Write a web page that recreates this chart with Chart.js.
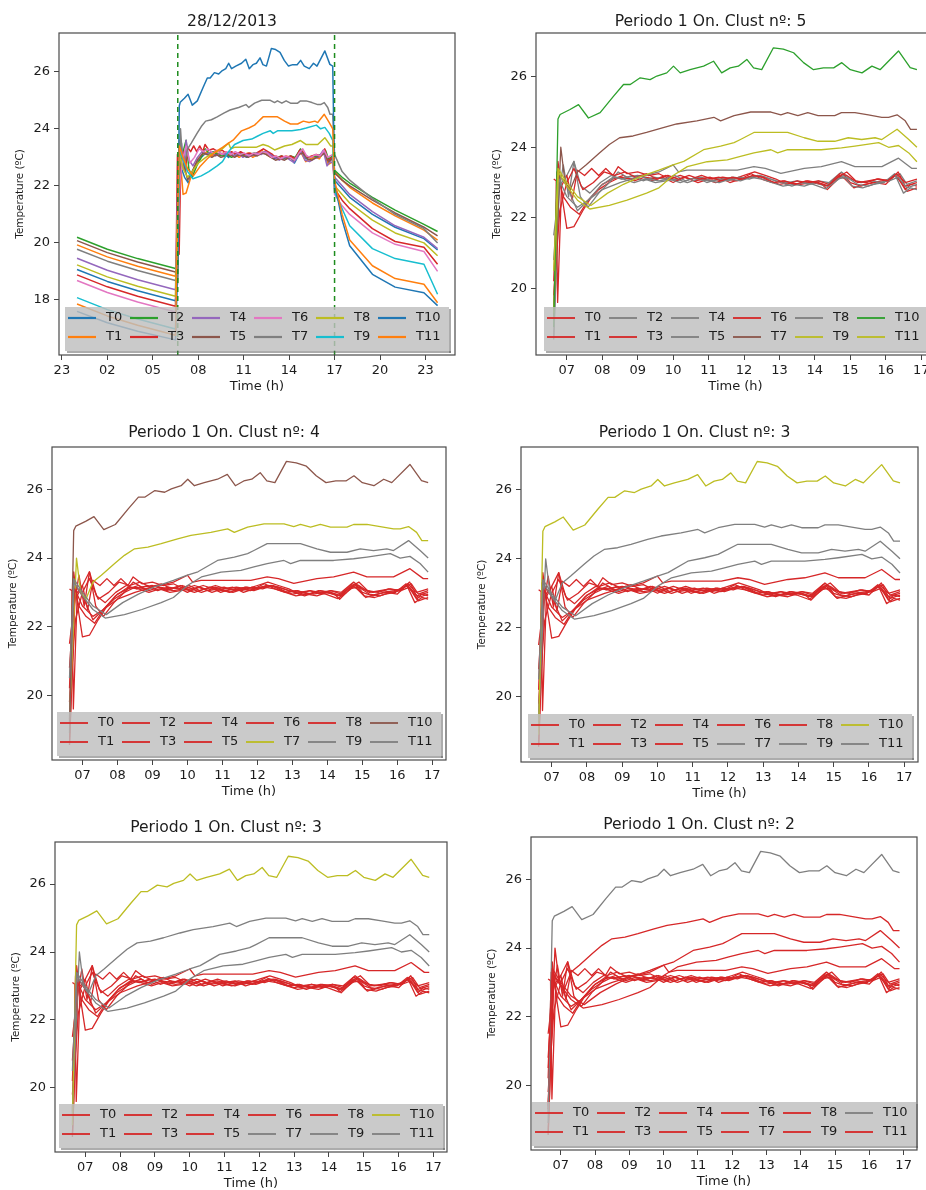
<!DOCTYPE html>
<html>
<head>
<meta charset="utf-8">
<script src="https://cdn.jsdelivr.net/npm/chart.js@4.4.0/dist/chart.umd.min.js"></script>
<style>
  html, body { margin: 0; padding: 0; background: #fff; }
  body { position: relative; width: 926px; height: 1190px; overflow: hidden; }
  canvas { position: absolute; }
</style>
</head>
<body>
<script>
// ---- data (hours of the day, temperature in ºC) ----
const sensors = ['T0', 'T1', 'T2', 'T3', 'T4', 'T5', 'T6', 'T7', 'T8', 'T9', 'T10', 'T11'];

// night before the heating goes on (00:00 -> 06:30)
const nightHours = [0, 2, 4, 6.5];
const nightTemps = [
  [19.07, 18.65, 18.32, 17.97],
  [19.93, 19.51, 19.18, 18.83],
  [20.20, 19.78, 19.45, 19.10],
  [18.88, 18.46, 18.13, 17.78],
  [19.46, 19.04, 18.71, 18.36],
  [20.08, 19.66, 19.33, 18.98],
  [18.68, 18.26, 17.93, 17.58],
  [19.78, 19.36, 19.03, 18.68],
  [19.23, 18.81, 18.48, 18.13],
  [18.08, 17.66, 17.33, 16.98],
  [17.60, 17.20, 16.90, 16.60],
  [17.86, 17.44, 17.11, 16.76]
];

// evening after the heating goes off (17:00 -> 23:48)
const eveningHours = [17.0, 17.5, 18.0, 19.5, 21.0, 22.9, 23.8];
const eveningTemps = [
  [22.20, 21.90, 21.60, 21.00, 20.55, 20.15, 19.75],
  [22.50, 22.20, 21.95, 21.40, 20.95, 20.45, 20.10],
  [22.55, 22.30, 22.10, 21.60, 21.15, 20.65, 20.40],
  [21.90, 21.50, 21.20, 20.50, 20.05, 19.85, 19.25],
  [22.30, 22.00, 21.70, 21.10, 20.60, 20.20, 19.80],
  [22.45, 22.20, 22.00, 21.50, 21.05, 20.55, 20.25],
  [21.70, 21.30, 21.00, 20.35, 19.95, 19.70, 19.00],
  [23.10, 22.50, 22.20, 21.55, 21.00, 20.50, 20.00],
  [22.00, 21.70, 21.40, 20.80, 20.35, 20.00, 19.55],
  [21.80, 21.20, 20.60, 19.80, 19.45, 19.25, 18.20],
  [22.10, 20.80, 19.90, 18.90, 18.45, 18.25, 17.80],
  [22.20, 21.00, 20.10, 19.20, 18.75, 18.55, 17.90]
];

// "Periodo 1 On" (06:38 -> 16:53), [hour, temperature]
const onT0 = [[6.63,19.2],[6.72,23.3],[6.9,22.6],[7.1,22.3],[7.35,22.1],[7.6,22.5],[7.9,22.8],[8.2,23.0],[8.5,23.15],[8.8,23.1],[9.1,23.2],[9.4,23.05],[9.7,23.15],[10.0,23.0],[10.3,23.15],[10.6,23.05],[10.9,23.1],[11.2,23.0],[11.5,23.1],[11.8,23.05],[12.1,23.15],[12.4,23.2],[12.7,23.05],[13.0,22.95],[13.3,23.0],[13.6,22.95],[13.9,23.0],[14.2,22.95],[14.35,22.8],[14.6,23.05],[14.8,23.25],[15.0,23.0],[15.3,22.9],[15.6,23.0],[15.9,23.05],[16.1,23.1],[16.3,23.2],[16.55,22.8],[16.7,22.95],[16.88,22.9]];
const onT1 = [[6.63,20.2],[6.75,23.6],[6.88,22.5],[7.0,21.7],[7.2,21.75],[7.45,22.2],[7.7,22.6],[8.0,22.95],[8.3,23.1],[8.6,23.2],[8.9,23.05],[9.2,23.15],[9.5,23.1],[9.8,23.2],[10.1,23.05],[10.35,23.15],[10.7,23.0],[11.0,23.1],[11.3,23.15],[11.6,23.0],[11.9,23.1],[12.2,23.25],[12.5,23.1],[12.8,23.0],[13.1,23.05],[13.5,22.95],[13.8,23.05],[14.1,23.0],[14.4,22.9],[14.7,23.2],[14.85,23.1],[15.1,22.85],[15.4,22.95],[15.7,23.0],[16.0,22.95],[16.25,23.2],[16.45,23.0],[16.6,22.75],[16.88,22.85]];
const onT2 = [[6.63,18.6],[6.78,22.9],[7.0,23.2],[7.2,23.6],[7.38,22.6],[7.6,22.3],[7.9,22.7],[8.2,23.0],[8.45,23.3],[8.7,23.15],[9.0,23.2],[9.3,23.1],[9.6,23.05],[9.9,23.1],[10.2,23.0],[10.5,23.1],[10.8,23.15],[11.1,23.05],[11.4,23.1],[11.7,23.15],[12.0,23.1],[12.3,23.2],[12.6,23.15],[12.9,23.05],[13.2,23.0],[13.5,23.05],[13.8,22.95],[14.1,23.05],[14.4,23.0],[14.75,23.3],[15.0,23.1],[15.3,23.0],[15.6,23.05],[15.9,23.0],[16.2,23.15],[16.4,23.25],[16.6,22.95],[16.88,23.05]];
const onT3 = [[6.63,23.1],[6.7,23.05],[6.74,19.6],[6.85,22.9],[7.0,23.2],[7.15,22.5],[7.3,23.35],[7.5,23.2],[7.7,23.4],[7.9,23.2],[8.1,23.4],[8.3,23.2],[8.45,23.45],[8.7,23.25],[9.0,23.3],[9.3,23.2],[9.6,23.25],[9.9,23.1],[10.2,23.2],[10.5,23.1],[10.8,23.2],[11.1,23.1],[11.4,23.15],[11.7,23.1],[12.0,23.2],[12.3,23.3],[12.6,23.2],[12.9,23.1],[13.2,22.95],[13.5,23.05],[13.8,23.0],[14.1,23.05],[14.4,22.95],[14.7,23.25],[14.9,23.2],[15.2,23.0],[15.5,23.05],[15.8,23.1],[16.1,23.05],[16.35,23.3],[16.55,22.9],[16.88,23.0]];
const onT4 = [[6.63,21.5],[6.76,22.6],[6.9,23.5],[7.05,22.6],[7.2,23.6],[7.4,22.9],[7.65,22.7],[7.95,23.0],[8.25,23.2],[8.55,23.1],[8.85,23.2],[9.15,23.05],[9.45,23.15],[9.75,23.1],[10.05,23.2],[10.35,23.05],[10.65,23.15],[10.95,23.0],[11.25,23.1],[11.55,23.05],[11.85,23.15],[12.15,23.1],[12.45,23.2],[12.75,23.1],[13.05,23.0],[13.35,22.9],[13.65,23.0],[13.95,22.95],[14.3,22.82],[14.55,23.0],[14.8,23.2],[15.05,22.9],[15.35,22.85],[15.65,22.95],[15.95,23.0],[16.25,23.25],[16.5,22.7],[16.7,22.85],[16.88,22.8]];
const onT5 = [[6.63,18.55],[6.8,23.2],[7.0,22.9],[7.3,22.2],[7.6,22.5],[7.95,22.9],[8.3,23.15],[8.6,23.1],[8.9,23.0],[9.2,23.1],[9.5,23.0],[9.8,23.05],[10.1,23.1],[10.4,23.0],[10.7,23.1],[11.0,23.05],[11.3,23.0],[11.6,23.1],[11.9,23.05],[12.2,23.15],[12.5,23.1],[12.8,23.0],[13.1,22.9],[13.4,22.95],[13.7,22.9],[14.0,23.0],[14.3,22.9],[14.6,23.1],[14.9,23.15],[15.2,22.95],[15.5,22.9],[15.8,23.0],[16.1,23.05],[16.35,23.15],[16.6,22.85],[16.88,22.95]];
const onT6 = [[6.63,19.8],[6.8,22.2],[7.0,23.0],[7.2,23.4],[7.45,22.8],[7.75,23.0],[8.05,23.3],[8.35,23.2],[8.65,23.3],[8.95,23.15],[9.25,23.25],[9.55,23.1],[9.85,23.2],[10.15,23.1],[10.45,23.2],[10.75,23.1],[11.05,23.15],[11.35,23.05],[11.65,23.15],[11.95,23.1],[12.25,23.2],[12.55,23.15],[12.85,23.0],[13.15,23.05],[13.45,22.95],[13.75,23.05],[14.05,23.0],[14.35,22.9],[14.65,23.15],[14.9,23.3],[15.15,23.05],[15.45,23.0],[15.75,23.1],[16.05,23.05],[16.3,23.25],[16.55,23.0],[16.88,23.1]];
const onT7 = [[6.63,19.4],[6.83,24.0],[6.95,23.0],[7.1,22.8],[7.3,23.3],[7.54,23.5],[7.92,23.84],[8.2,24.08],[8.49,24.27],[8.87,24.32],[9.25,24.42],[9.72,24.56],[10.1,24.66],[10.67,24.75],[11.15,24.85],[11.34,24.75],[11.72,24.9],[12.19,25.0],[12.76,25.0],[13.04,24.92],[13.23,24.98],[13.52,24.9],[13.8,24.98],[14.09,24.9],[14.56,24.9],[14.75,24.98],[15.13,24.98],[15.51,24.92],[15.89,24.85],[16.08,24.85],[16.32,24.92],[16.55,24.75],[16.7,24.51],[16.88,24.51]];
const onT8 = [[6.63,20.8],[6.78,23.1],[7.0,22.6],[7.3,22.3],[7.6,22.5],[8.0,22.8],[8.5,23.0],[9.0,23.15],[9.6,23.3],[10.0,23.5],[10.15,23.3],[10.39,23.35],[11.0,23.35],[11.81,23.35],[12.28,23.45],[12.6,23.4],[13.04,23.26],[13.7,23.4],[14.18,23.45],[14.75,23.59],[15.13,23.45],[15.89,23.45],[16.36,23.69],[16.74,23.4],[16.88,23.4]];
const onT9 = [[6.63,19.3],[6.76,23.3],[7.0,22.9],[7.3,22.5],[7.65,22.25],[8.2,22.35],[8.7,22.5],[9.25,22.7],[9.6,22.85],[10.0,23.2],[10.4,23.45],[10.96,23.59],[11.53,23.64],[11.9,23.74],[12.28,23.84],[12.76,23.93],[12.95,23.84],[13.23,23.93],[14.18,23.93],[14.75,23.98],[15.13,24.03],[15.8,24.13],[16.08,24.0],[16.36,24.05],[16.65,23.84],[16.88,23.59]];
const onT10 = [[6.63,18.9],[6.75,24.8],[6.81,24.93],[7.09,25.07],[7.33,25.21],[7.61,24.83],[7.94,24.98],[8.32,25.45],[8.6,25.78],[8.79,25.78],[9.07,25.97],[9.35,25.92],[9.54,26.02],[9.82,26.11],[10.01,26.3],[10.2,26.11],[10.48,26.2],[10.86,26.3],[11.14,26.44],[11.37,26.11],[11.61,26.25],[11.84,26.3],[12.08,26.49],[12.27,26.25],[12.5,26.2],[12.83,26.82],[13.11,26.78],[13.4,26.68],[13.68,26.4],[13.96,26.2],[14.24,26.25],[14.53,26.25],[14.76,26.4],[15.0,26.2],[15.33,26.11],[15.61,26.3],[15.84,26.2],[16.36,26.73],[16.69,26.26],[16.88,26.2]];
const onT11 = [[6.63,20.5],[6.75,23.4],[7.0,23.0],[7.3,22.6],[7.68,22.35],[8.15,22.7],[8.6,22.95],[9.08,23.17],[9.6,23.35],[10.0,23.5],[10.3,23.6],[10.86,23.93],[11.34,24.03],[11.72,24.13],[11.9,24.22],[12.28,24.42],[12.57,24.42],[13.23,24.42],[13.7,24.27],[14.09,24.17],[14.56,24.17],[14.94,24.27],[15.32,24.22],[15.7,24.27],[15.89,24.22],[16.32,24.51],[16.65,24.22],[16.88,24.0]];
const onPeriod = [onT0, onT1, onT2, onT3, onT4, onT5, onT6, onT7, onT8, onT9, onT10, onT11];

// start / end of the "On" period, marked in the first panel
const markerHours = [6.65, 17.0];

const dayTicks = [-1, 2, 5, 8, 11, 14, 17, 20, 23];
const dayTickLabels = ['23', '02', '05', '08', '11', '14', '17', '20', '23'];
const onTicks = [7, 8, 9, 10, 11, 12, 13, 14, 15, 16, 17];
const onTickLabels = ['07', '08', '09', '10', '11', '12', '13', '14', '15', '16', '17'];
const dayTempTicks = [18, 20, 22, 24, 26];
const onTempTicks = [20, 22, 24, 26];

// ---- styles ----
const R = '#d62728', GY = '#7f7f7f', OL = '#bcbd22', GN = '#2ca02c', BR = '#8c564b';
const tab10Cycle = ['#1f77b4', '#ff7f0e', '#2ca02c', '#d62728', '#9467bd', '#8c564b',
  '#e377c2', '#7f7f7f', '#bcbd22', '#17becf', '#1f77b4', '#ff7f0e'];
const clust5Colors = [R, R, GY, R, GY, GY, R, BR, GY, OL, GN, OL];
const clust4Colors = [R, R, R, R, R, R, R, OL, R, GY, BR, GY];
const clust3Colors = [R, R, R, R, R, R, R, GY, R, GY, OL, GY];
const clust2Colors = [R, R, R, R, R, R, R, R, R, R, GY, R];

Chart.defaults.font.family = 'DejaVu Sans';
const TEXT = '#1c1c1c';

// panels: axes box [left, top, right, bottom] in page pixels
const panels = [
  { box: [59, 33, 455, 355], title: '28/12/2013', titleGap: 1.6, full: true, colors: tab10Cycle },
  { box: [536, 33, 935, 355], title: 'Periodo 1 On. Clust nº: 5', titleGap: 1.6, colors: clust5Colors },
  { box: [52, 447, 446, 760], title: 'Periodo 1 On. Clust nº: 4', titleGap: 4.6, colors: clust4Colors },
  { box: [521, 447, 918, 762], title: 'Periodo 1 On. Clust nº: 3', titleGap: 4.6, colors: clust3Colors },
  { box: [55, 842, 447, 1152], title: 'Periodo 1 On. Clust nº: 3', titleGap: 4.6, colors: clust3Colors },
  { box: [531, 837, 917, 1150], title: 'Periodo 1 On. Clust nº: 2', titleGap: 2.6, colors: clust2Colors }
];

// full box frame + matplotlib-like legend inside the axes (lower centre)
const frameAndLegend = {
  id: 'frameAndLegend',
  afterDatasetsDraw(chart, args, opts) {
    const ctx = chart.ctx;
    const a = chart.chartArea;
    ctx.save();
    ctx.strokeStyle = '#4a4a4a';
    ctx.lineWidth = 1.2;
    ctx.strokeRect(a.left, a.top, a.right - a.left, a.bottom - a.top);

    const items = chart.data.datasets.filter(d => !d.marker);
    const w = 384, h = 44;
    const x0 = Math.round((a.left + a.right) / 2 - w / 2);
    const y0 = Math.round(a.bottom - 4 - h);
    ctx.fillStyle = 'rgba(90,90,90,0.5)';
    ctx.fillRect(x0 + w, y0 + 2, 2, h);
    ctx.fillRect(x0 + 2, y0 + h, w, 2);
    ctx.fillStyle = 'rgba(190,190,190,0.82)';
    ctx.fillRect(x0, y0, w, h);

    ctx.font = '13px "DejaVu Sans"';
    ctx.textBaseline = 'middle';
    items.forEach((d, i) => {
      const hx = x0 + 3 + Math.floor(i / 2) * 62;
      const hy = y0 + 11 + (i % 2) * 19;
      ctx.strokeStyle = d.borderColor;
      ctx.lineWidth = opts.handleWidth;
      ctx.beginPath();
      ctx.moveTo(hx, hy);
      ctx.lineTo(hx + 28, hy);
      ctx.stroke();
      ctx.fillStyle = TEXT;
      ctx.fillText(d.label, hx + 38, hy);
    });
    ctx.restore();
  }
};

function seriesPoints(i, full) {
  const on = onPeriod[i].map(([x, y]) => ({ x, y }));
  if (!full) return on;
  const night = nightHours.map((x, k) => ({ x, y: nightTemps[i][k] }));
  const evening = eveningHours.map((x, k) => ({ x, y: eveningTemps[i][k] }));
  return night.concat(on, evening);
}

function makePanel(p) {
  const [L, T, Rt, B] = p.box;
  const left = L - 50, top = T - 24;
  const width = Rt - L + 58, height = B - top + 42;
  const canvas = document.createElement('canvas');
  canvas.width = width;
  canvas.height = height;
  canvas.style.left = left + 'px';
  canvas.style.top = top + 'px';
  canvas.style.width = width + 'px';
  canvas.style.height = height + 'px';
  document.body.appendChild(canvas);

  const xMin = p.full ? -1.19 : 6.13, xMax = p.full ? 24.95 : 17.39;
  const yMin = p.full ? 16.07 : 18.11, yMax = p.full ? 27.36 : 27.24;
  const xTicks = p.full ? dayTicks : onTicks;
  const xLabels = p.full ? dayTickLabels : onTickLabels;
  const yTicks = p.full ? dayTempTicks : onTempTicks;

  const datasets = sensors.map((name, i) => ({
    label: name,
    data: seriesPoints(i, p.full),
    borderColor: p.colors[i],
    borderWidth: p.full ? 1.5 : 1.3,
    order: -i
  }));
  if (p.full) {
    markerHours.forEach(hx => datasets.push({
      label: '',
      marker: true,
      data: [{ x: hx, y: yMin }, { x: hx, y: yMax }],
      borderColor: '#1e8c1e',
      borderWidth: 1.5,
      borderDash: [5, 4],
      order: -20
    }));
  }

  new Chart(canvas, {
    type: 'line',
    data: { datasets },
    options: {
      responsive: false,
      animation: false,
      devicePixelRatio: 1,
      layout: { padding: { left: 0, right: 8, top: 0, bottom: 0 } },
      elements: {
        point: { radius: 0, hoverRadius: 0 },
        line: { tension: 0, borderJoinStyle: 'round', fill: false }
      },
      plugins: {
        legend: { display: false },
        tooltip: { enabled: false },
        title: {
          display: true,
          text: p.title,
          color: TEXT,
          font: { size: 15.6, weight: 'normal' },
          padding: { top: 24 - 18.72 - p.titleGap, bottom: p.titleGap }
        },
        frameAndLegend: { handleWidth: p.full ? 2.2 : 1.8 }
      },
      scales: {
        x: {
          type: 'linear',
          min: xMin,
          max: xMax,
          afterBuildTicks: s => { s.ticks = xTicks.map(v => ({ value: v })); },
          afterFit: s => { s.height = 42; s.paddingLeft = 0; s.paddingRight = 0; },
          ticks: {
            autoSkip: false,
            maxRotation: 0,
            padding: 3,
            color: TEXT,
            font: { size: 13 },
            callback: v => xLabels[xTicks.indexOf(v)]
          },
          grid: { drawOnChartArea: false, drawTicks: true, tickLength: 5, color: '#444' },
          border: { display: false },
          title: {
            display: true,
            text: 'Time (h)',
            color: TEXT,
            font: { size: 13 },
            padding: { top: 0, bottom: 3 }
          }
        },
        y: {
          min: yMin,
          max: yMax,
          afterBuildTicks: s => { s.ticks = yTicks.map(v => ({ value: v })); },
          afterFit: s => { s.width = 50; s.paddingTop = 0; s.paddingBottom = 0; },
          ticks: { padding: 4, color: TEXT, font: { size: 13 } },
          grid: { drawOnChartArea: false, drawTicks: true, tickLength: 5, color: '#444' },
          border: { display: false },
          title: {
            display: true,
            text: 'Temperature (ºC)',
            color: TEXT,
            font: { size: 10.4 },
            padding: { top: 4.8, bottom: 0 }
          }
        }
      }
    },
    plugins: [frameAndLegend]
  });
}

panels.forEach(makePanel);
</script>
</body>
</html>
